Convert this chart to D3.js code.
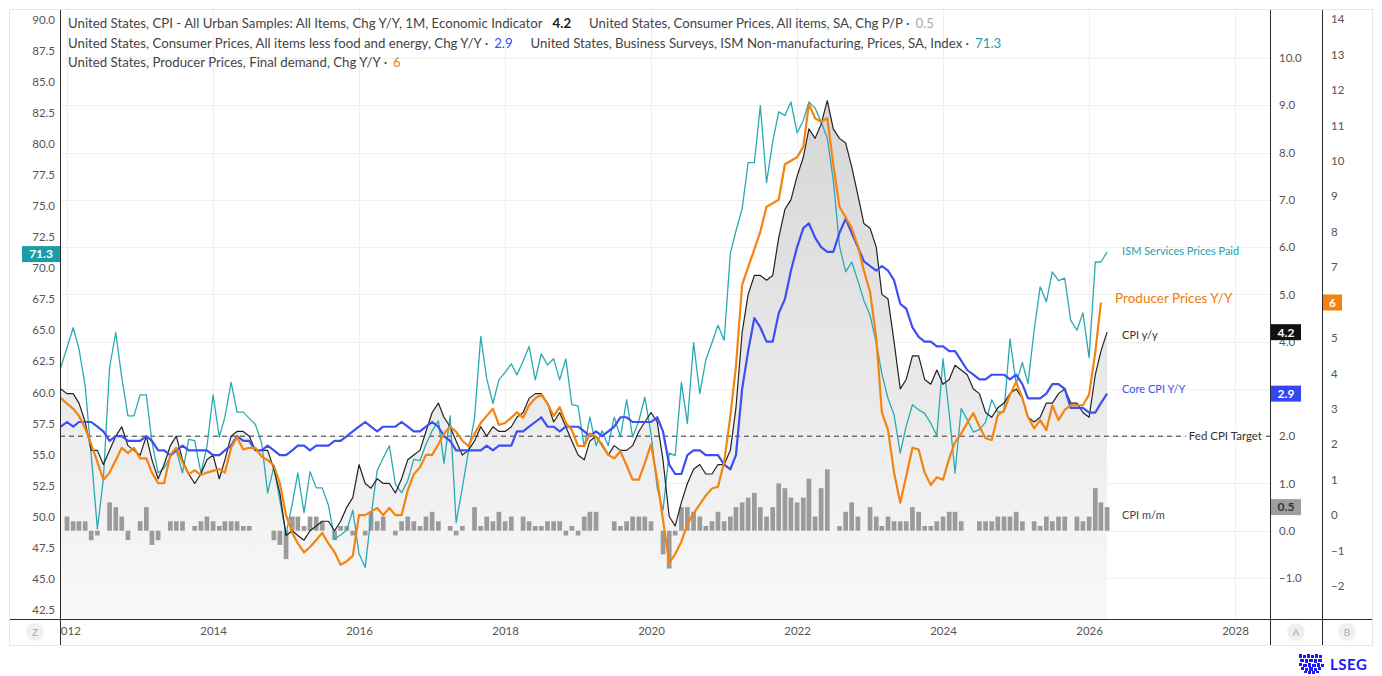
<!DOCTYPE html>
<html><head><meta charset="utf-8">
<script src="https://cdn.jsdelivr.net/npm/d3@7"></script>
<style>
html,body{margin:0;padding:0;background:#fff;}
svg{display:block;font-family:Lato,"Open Sans",sans-serif;}
</style></head><body>
<svg id="c" width="1382" height="676"></svg>
<script>
// ---------------- DATA (monthly, Dec 2011 onward) ----------------
const firstMonth = "2011-12";
const cpiYoY = [3.0,
 2.9,2.9,2.7,2.3,1.7,1.7,1.4,1.7,2.0,2.2,1.8,1.7,
 1.6,2.0,1.5,1.1,1.4,1.8,2.0,1.5,1.2,1.0,1.2,1.5,
 1.6,1.1,1.5,2.0,2.1,2.1,2.0,1.7,1.7,1.7,1.3,0.8,
 -0.1,0.0,-0.1,-0.2,0.0,0.1,0.2,0.2,0.0,0.2,0.5,0.7,
 1.4,1.0,0.9,1.1,1.0,1.0,0.8,1.1,1.5,1.6,1.7,2.1,
 2.5,2.7,2.4,2.2,1.9,1.6,1.7,1.9,2.2,2.0,2.2,2.1,
 2.1,2.2,2.4,2.5,2.8,2.9,2.9,2.7,2.3,2.5,2.2,1.9,
 1.6,1.5,1.9,2.0,1.8,1.6,1.8,1.7,1.7,1.8,2.1,2.3,
 2.5,2.3,1.5,0.3,0.1,0.6,1.0,1.3,1.4,1.2,1.2,1.4,
 1.4,1.7,2.6,4.2,5.0,5.4,5.4,5.3,5.4,6.2,6.8,7.0,
 7.5,7.9,8.5,8.3,8.6,9.1,8.5,8.3,8.2,7.7,7.1,6.5,
 6.4,6.0,5.0,4.9,4.0,3.0,3.2,3.7,3.7,3.2,3.1,3.4,
 3.1,3.2,3.5,3.4,3.3,3.0,2.9,2.5,2.4,2.6,2.7,2.9,
 3.0,2.8,2.4,2.3,2.4,2.7,2.7,2.9,3.0,2.7,2.7,2.5,
 2.4,3.3,3.8,4.2];
const coreYoY = [2.2,
 2.3,2.2,2.3,2.3,2.3,2.2,2.1,1.9,2.0,2.0,1.9,1.9,
 1.9,2.0,1.9,1.7,1.7,1.6,1.7,1.8,1.7,1.7,1.7,1.7,
 1.6,1.6,1.7,1.8,2.0,1.9,1.9,1.7,1.7,1.8,1.7,1.6,
 1.6,1.7,1.8,1.8,1.7,1.8,1.8,1.8,1.9,1.9,2.0,2.1,
 2.2,2.3,2.2,2.1,2.2,2.2,2.2,2.3,2.2,2.1,2.1,2.2,
 2.3,2.2,2.0,1.9,1.7,1.7,1.7,1.7,1.7,1.8,1.7,1.8,
 1.8,1.8,2.1,2.1,2.2,2.3,2.4,2.2,2.2,2.1,2.2,2.2,
 2.2,2.1,2.0,2.1,2.0,2.1,2.2,2.4,2.4,2.3,2.3,2.3,
 2.3,2.4,2.1,1.4,1.2,1.2,1.6,1.7,1.7,1.6,1.6,1.6,
 1.4,1.3,1.6,3.0,3.8,4.5,4.3,4.0,4.0,4.6,4.9,5.5,
 6.0,6.4,6.5,6.2,6.0,5.9,5.9,6.3,6.6,6.3,6.0,5.7,
 5.6,5.5,5.6,5.5,5.3,4.8,4.7,4.3,4.1,4.0,4.0,3.9,
 3.9,3.8,3.8,3.6,3.4,3.3,3.2,3.2,3.3,3.3,3.3,3.2,
 3.3,3.1,2.8,2.8,2.8,2.9,3.1,3.1,3.0,2.6,2.6,2.6,
 2.5,2.5,2.7,2.9];
const ppiYoY = [3.3,
 3.15,3.0,2.8,2.45,2.0,1.5,1.0,1.2,1.55,1.9,1.75,1.9,
 1.6,1.6,1.2,0.9,0.9,1.7,1.9,1.5,1.15,1.27,1.13,1.2,
 1.25,1.3,1.2,1.9,2.2,1.85,1.9,1.9,1.65,1.55,1.4,0.9,
 0.0,-0.5,-0.8,-1.05,-0.9,-0.7,-0.5,-0.8,-1.05,-1.4,-1.3,-1.15,
 0.0,0.0,0.1,0.2,0.0,0.2,0.0,0.0,0.7,1.15,1.35,1.7,
 1.7,2.0,2.3,2.5,2.35,2.1,1.95,2.3,2.6,2.8,3.0,2.55,
 2.6,2.75,2.9,2.75,3.1,3.3,3.4,3.15,2.8,3.05,2.6,2.4,
 1.95,1.95,2.3,2.2,2.0,1.7,1.6,1.8,1.4,1.0,1.0,1.47,
 2.0,1.0,-0.14,-1.35,-1.1,-0.75,-0.25,0.05,0.3,0.55,0.75,0.8,
 1.5,2.8,4.2,6.5,7.0,7.5,8.0,8.7,8.8,8.9,9.9,10.0,
 10.1,10.4,11.6,11.2,11.1,11.2,9.9,8.7,8.4,8.1,7.6,6.9,
 6.3,5.0,2.9,2.4,1.2,0.35,1.1,1.9,1.85,1.2,0.85,1.07,
 1.0,1.6,2.05,2.3,2.6,2.88,2.5,2.17,2.12,2.82,2.95,3.4,
 3.76,3.3,2.77,2.45,2.68,2.4,3.1,2.68,2.97,3.1,3.1,3.1,
 3.4,4.6,6.0];
const ismPrices = [62.0,
 63.6,65.2,63.5,60.5,55.0,49.0,53.0,62.0,64.8,61.2,58.1,58.1,
 59.8,59.8,56.0,53.5,53.9,54.8,55.3,53.5,56.2,56.1,53.5,55.6,
 59.8,56.4,58.0,60.8,58.4,58.4,57.9,57.4,55.9,51.9,54.0,51.3,
 48.6,51.0,53.5,50.3,53.6,52.3,52.3,50.9,48.2,48.5,48.9,50.5,
 47.0,45.9,50.0,53.7,54.7,55.7,52.6,51.9,52.9,54.6,54.5,55.8,
 56.9,57.7,54.3,58.1,49.5,52.3,55.2,57.9,64.5,61.1,59.1,61.0,
 61.6,62.3,61.4,62.5,63.7,61.0,63.1,62.2,62.7,61.0,62.7,59.0,
 58.9,55.6,58.0,55.7,56.9,55.7,58.0,56.4,59.4,56.4,57.7,59.6,
 56.7,52.3,50.5,55.1,54.9,60.8,57.5,64.0,59.9,62.6,64.0,65.4,
 64.2,71.2,73.0,74.8,78.5,78.5,83.1,76.9,80.2,82.6,82.3,83.4,
 80.9,81.9,83.4,82.9,81.8,80.5,77.1,71.8,69.7,70.5,69.0,67.4,
 66.2,64.0,61.5,59.5,58.2,55.1,57.3,59.0,58.6,58.3,57.5,56.5,
 62.7,58.3,53.5,58.7,57.8,56.8,57.0,57.6,59.4,58.4,58.4,64.3,
 60.7,62.4,60.7,65.0,68.5,67.3,69.7,69.0,69.2,65.8,65.0,66.4,
 62.8,70.5,70.5,71.3];
const cpiMoM = [0.0,
 0.3,0.2,0.2,0.2,-0.2,-0.1,0.0,0.6,0.5,0.3,-0.2,0.0,
 0.2,0.5,-0.3,-0.2,0.0,0.2,0.2,0.2,0.0,0.1,0.2,0.3,
 0.2,0.1,0.2,0.2,0.2,0.1,0.1,0.0,0.0,0.0,-0.2,-0.3,
 -0.6,0.3,0.3,0.1,0.3,0.3,0.2,0.0,-0.2,0.1,0.1,-0.1,
 0.0,-0.1,0.4,0.2,0.3,0.0,-0.1,0.2,0.3,0.2,0.1,0.3,
 0.4,0.2,0.0,0.1,-0.1,0.1,0.0,0.5,0.1,0.3,0.2,0.4,
 0.2,0.3,0.0,0.3,0.2,0.1,0.1,0.2,0.2,0.2,-0.1,0.1,
 -0.1,0.3,0.4,0.4,0.0,0.0,0.2,0.1,0.2,0.3,0.3,0.3,
 0.2,0.0,-0.5,-0.8,-0.1,0.5,0.5,0.4,0.3,0.1,0.2,0.4,
 0.2,0.3,0.5,0.6,0.7,0.8,0.5,0.3,0.5,1.0,0.9,0.7,
 0.6,0.7,1.1,0.3,0.9,1.3,0.0,0.1,0.4,0.6,0.3,0.0,
 0.5,0.3,0.1,0.3,0.2,0.2,0.2,0.5,0.4,0.1,0.1,0.2,
 0.3,0.4,0.4,0.2,0.0,0.0,0.2,0.2,0.2,0.3,0.3,0.3,
 0.4,0.2,0.0,0.2,0.1,0.3,0.2,0.3,0.3,null,0.3,0.2,
 0.3,0.9,0.6,0.5];
const fedTarget = 2.0;
const xTickYears = [2012,2014,2016,2018,2020,2022,2024,2026,2028];
const leftTicks = [42.5,45,47.5,50,52.5,55,57.5,60,62.5,65,67.5,70,72.5,75,77.5,80,82.5,85,87.5,90];
const axisATicks = [-1,0,1,2,3,4,5,6,7,8,9,10];
const axisALabelTicks = [-1,0,1,2,4,5,6,7,8,9,10];
const axisBTicks = [-2,-1,0,1,2,3,4,5,6,7,8,9,10,11,12,13,14];
const legendRows = [
  [["United States, CPI - All Urban Samples: All Items, Chg Y/Y, 1M, Economic Indicator","#444",400,0],["4.2","#222",700,10],
   ["United States, Consumer Prices, All items, SA, Chg P/P ·","#444",400,18],["0.5","#aaa",400,6]],
  [["United States, Consumer Prices, All items less food and energy, Chg Y/Y ·","#444",400,0],["2.9","#3d4ff0",400,6],
   ["United States, Business Surveys, ISM Non-manufacturing, Prices, SA, Index ·","#444",400,18],["71.3","#1fa0aa",400,6]],
  [["United States, Producer Prices, Final demand, Chg Y/Y ·","#444",400,0],["6","#f08010",400,6]]
];

// ---------------- LAYOUT ----------------
const PL=60, PR=1270, PT=10, PB=619, BX=1322, FR=1372, FB=645, FL=10;
const C = {ism:"#2aa9b3", ppi:"#f5830f", core:"#3d4ff2", cpi:"#222", bar:"#9b9b9b"};
const svg = d3.select("#c");
const defs = svg.append("defs");
const g0 = defs.append("linearGradient").attr("id","shade").attr("gradientUnits","userSpaceOnUse")
  .attr("x1",0).attr("y1",90).attr("x2",0).attr("y2",PB);
g0.append("stop").attr("offset",0).attr("stop-color","#d5d5d5");
g0.append("stop").attr("offset",1).attr("stop-color","#f9f9f9");
defs.append("clipPath").attr("id","plot").append("rect").attr("x",PL).attr("y",PT).attr("width",PR-PL).attr("height",PB-PT);
defs.append("clipPath").attr("id","xlab").append("rect").attr("x",PL+1).attr("y",0).attr("width",PR-PL-1).attr("height",FB-PB);

svg.append("rect").attr("x",FL-0.5).attr("y",PT-0.5).attr("width",FR-FL+1).attr("height",FB-PT+1)
  .attr("fill","#fff").attr("stroke","#e6e6e6");

const parse = d3.timeParse("%Y-%m");
const m0 = parse(firstMonth);
const dates = d3.range(cpiYoY.length).map(i => d3.timeMonth.offset(m0, i));
const x = d3.scaleTime().domain([new Date(2011,10,27), new Date(2028,5,24)]).range([PL,PR]);
const yL = d3.scaleLinear().domain([42.5,90]).range([609.5,20]);
const yA = d3.scaleLinear().domain([-1,10]).range([578,58]);
const yB = d3.scaleLinear().domain([-2,14]).range([586,19]);

// grid
const grid = svg.append("g");
grid.selectAll(".h").data(axisATicks).join("line").attr("x1",PL).attr("x2",PR)
  .attr("y1",d=>Math.round(yA(d))+0.5).attr("y2",d=>Math.round(yA(d))+0.5).attr("stroke","#efefef");
grid.selectAll(".v").data(xTickYears).join("line")
  .attr("x1",d=>Math.round(x(new Date(d,0,1)))+0.5).attr("x2",d=>Math.round(x(new Date(d,0,1)))+0.5)
  .attr("y1",PT).attr("y2",PB).attr("stroke","#efefef");

const plot = svg.append("g").attr("clip-path","url(#plot)");
const cpiData = dates.map((d,i)=>({d, v:cpiYoY[i]}));
plot.append("path").datum(cpiData).attr("fill","url(#shade)")
  .attr("d", d3.area().x(p=>x(p.d)).y0(PB).y1(p=>yA(p.v)));

// bars
const bw = 4.7;
plot.append("g").selectAll("rect").data(dates.map((d,i)=>({d,v:cpiMoM[i]})).filter(p=>p.v!=null && p.v!==0))
  .join("rect").attr("x",p=>x(p.d)-bw/2).attr("width",bw)
  .attr("y",p=>Math.min(yA(0),yA(p.v))).attr("height",p=>Math.abs(yA(p.v)-yA(0)))
  .attr("fill",C.bar);

// fed target
plot.append("line").attr("x1",PL).attr("x2",PR).attr("y1",yA(fedTarget)).attr("y2",yA(fedTarget))
  .attr("stroke","#333").attr("stroke-dasharray","5,4");

function drawLine(vals, yS, color, w){
  const data = vals.map((v,i)=>({d:dates[i], v}));
  plot.append("path").datum(data).attr("fill","none").attr("stroke",color).attr("stroke-width",w)
    .attr("stroke-linejoin","round")
    .attr("d", d3.line().x(p=>x(p.d)).y(p=>yS(p.v)));
}
drawLine(ismPrices, yL, C.ism, 1.3);
drawLine(cpiYoY, yA, C.cpi, 1.2);
drawLine(coreYoY, yA, C.core, 2.2);
drawLine(ppiYoY, yB, C.ppi, 2.2);

// series labels
const lastI = cpiYoY.length-1;
const lx = x(dates[lastI]) + 15;
function lab(txt, xx, yy, color, size){
  svg.append("text").attr("x",xx).attr("y",yy).attr("dy","0.35em").attr("fill",color)
    .attr("font-size",size).text(txt);
}
lab("ISM Services Prices Paid", lx, yL(ismPrices[lastI])-1, "#1fa0aa", 11);
lab("Producer Prices Y/Y", lx-7, yB(ppiYoY[ppiYoY.length-1])-4, "#f07c0c", 13.5);
lab("CPI y/y", lx, yA(cpiYoY[lastI])+3, "#333", 11);
lab("Core CPI Y/Y", lx, yA(coreYoY[lastI])-4, "#3d4ff2", 11);
lab("CPI m/m", lx, yA(cpiMoM[lastI])+8, "#444", 11);
const fedT = svg.append("text").attr("x",PR-8).attr("y",yA(fedTarget)).attr("dy","0.35em")
  .attr("text-anchor","end").attr("fill","#333").attr("font-size",11.5).text("Fed CPI Target");
const fb = fedT.node().getBBox();
svg.insert("rect","text:last-of-type").attr("x",fb.x-3).attr("y",fb.y).attr("width",fb.width+5).attr("height",fb.height).attr("fill","#fff");
fedT.raise();

// axis frame lines
const ax = svg.append("g").attr("stroke","#2a2a2a").attr("shape-rendering","crispEdges");
ax.append("line").attr("x1",PL+0.5).attr("x2",PL+0.5).attr("y1",PT).attr("y2",FB);
ax.append("line").attr("x1",PR+0.5).attr("x2",PR+0.5).attr("y1",PT).attr("y2",FB);
ax.append("line").attr("x1",BX+0.5).attr("x2",BX+0.5).attr("y1",PT).attr("y2",FB);
ax.append("line").attr("x1",FL).attr("x2",FR).attr("y1",PB+0.5).attr("y2",PB+0.5);

function styleAxis(g){
  g.attr("font-family","Lato, sans-serif").attr("font-size",11.5);
  g.select(".domain").remove();
  g.selectAll("text").attr("fill","#555");
}
svg.append("g").attr("transform",`translate(${PL-5},0)`)
  .call(d3.axisLeft(yL).tickValues(leftTicks).tickSize(0).tickPadding(0).tickFormat(d3.format(".1f"))).call(styleAxis);
svg.append("g").attr("transform",`translate(${PR+9},0)`)
  .call(d3.axisRight(yA).tickValues(axisALabelTicks).tickSize(0).tickPadding(0).tickFormat(d3.format(".1f"))).call(styleAxis);
svg.append("g").attr("transform",`translate(${BX+9},0)`)
  .call(d3.axisRight(yB).tickValues(axisBTicks).tickSize(0).tickPadding(0).tickFormat(d3.format("d"))).call(styleAxis);
svg.append("g").attr("transform",`translate(0,${PB})`).attr("clip-path","url(#xlab)")
  .call(d3.axisBottom(x).tickValues(xTickYears.map(y=>new Date(y,0,1))).tickSize(0).tickPadding(8).tickFormat(d3.timeFormat("%Y")))
  .call(styleAxis);

// badges
function badge(x0, w, yc, fill, txt, tc){
  const g = svg.append("g");
  g.append("rect").attr("x",x0).attr("y",yc-8).attr("width",w).attr("height",16).attr("fill",fill);
  g.append("text").attr("x",x0+w/2).attr("y",yc).attr("dy","0.36em").attr("text-anchor","middle")
    .attr("fill",tc).attr("font-size",12).attr("font-weight",700).text(txt);
}
badge(22, PL-22, yL(ismPrices[lastI])+2, "#1a9da6", String(ismPrices[lastI]), "#fff");
badge(PR+1, 30, yA(cpiYoY[lastI]), "#111", String(cpiYoY[lastI]), "#fff");
badge(PR+1, 30, yA(coreYoY[lastI]), "#3447f5", String(coreYoY[lastI]), "#fff");
badge(PR+1, 30, yA(cpiMoM[lastI]), "#9e9e9e", String(cpiMoM[lastI]), "#333");
badge(BX+1, 19, yB(ppiYoY[ppiYoY.length-1]), "#f5820f", String(ppiYoY[ppiYoY.length-1]), "#fff");

// legend
(function(){
  const probe = svg.append("text").attr("font-size",12).text(legendRows[0][0][0]);
  const fs = 12*475/probe.node().getComputedTextLength();
  probe.remove();
  const rowY=[28,48,67];
  legendRows.forEach((row,ri)=>{
    let cx=68;
    row.forEach(([t,col,wt,gap])=>{
      cx+=gap;
      const el = svg.append("text").attr("x",cx).attr("y",rowY[ri]).attr("font-size",fs)
        .attr("fill",col).attr("font-weight",wt).text(t);
      cx+=el.node().getComputedTextLength();
    });
  });
})();

// corner buttons
[["Z",35],["A",1296],["B",1347]].forEach(([t,cx])=>{
  svg.append("circle").attr("cx",cx).attr("cy",632).attr("r",9).attr("fill","#f0f0f0");
  svg.append("text").attr("x",cx).attr("y",632).attr("dy","0.35em").attr("text-anchor","middle")
    .attr("fill","#aaa").attr("font-size",10).text(t);
});

// LSEG logo
const lg = svg.append("g").attr("fill","#1a1aff");
const crest = [[0,0,3,4],[4,1,3,3],[8,0,3,4],[12,1,3,3],[16,0,3,4],[20,1,3,3],
  [1,5,4,3],[6,5,3,4],[10,5,4,3],[15,5,3,4],[19,5,4,3],
  [0,9,3,3],[4,10,4,3],[9,9,3,4],[13,10,4,3],[18,9,3,4],[22,10,3,3],
  [2,13,3,3],[6,14,3,3],[10,13,4,4],[15,14,3,3],[19,13,3,3],
  [5,17,3,2],[9,17,3,3],[13,17,3,3],[17,17,3,2]];
lg.selectAll("rect").data(crest).join("rect")
  .attr("x",d=>1299+d[0]).attr("y",d=>654+d[1]).attr("width",d=>d[2]).attr("height",d=>d[3]);
svg.append("text").attr("x",1330).attr("y",670).attr("fill","#1a1aff").attr("font-size",15)
  .attr("font-weight",700).attr("letter-spacing",0.5).text("LSEG");
</script>
</body></html>
